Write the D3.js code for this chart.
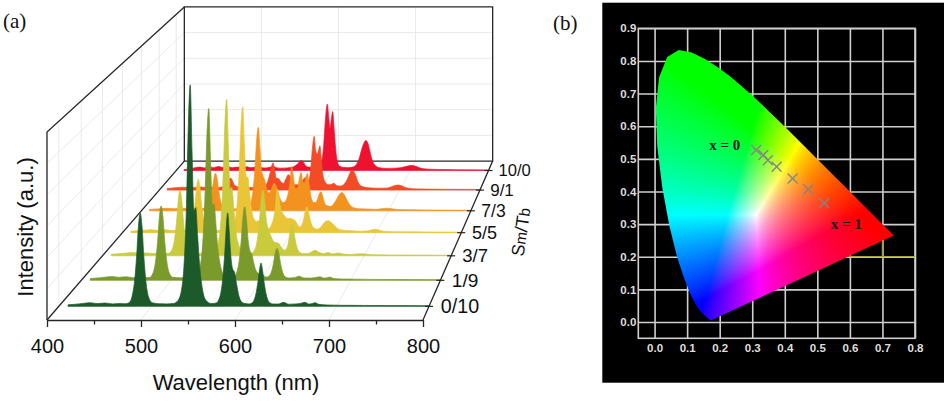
<!DOCTYPE html>
<html>
<head>
<meta charset="utf-8">
<script src="https://cdn.jsdelivr.net/npm/d3@7"></script>
<style>
  body { margin: 0; background: #fff; }
  svg { display: block; }
</style>
</head>
<body>
<svg id="fig" width="947" height="402"></svg>
<script>
// ---------------- data, panel (a) ----------------
var wlTicks = [400, 500, 600, 700, 800];
var wlMinor = [450, 550, 650, 750];
var ratios = ["0/10", "1/9", "3/7", "5/5", "7/3", "9/1", "10/0"];
var seriesColors = ["#1c5a2a", "#7a9a2c", "#c9ca3c", "#eac537", "#f3921f", "#f24b25", "#ef1230"];

// [wavelength nm, intensity a.u.]
var spec0_10 = [[410,1.0],[418,1.4],[426,1.9],[434,2.4],[442,1.8],[450,2.2],[458,1.6],[466,1.9],[472,1.7],[476,2.4],[479,6.1],[482,17],[484,31.5],[486,51.5],[488,60.6],[490,51.5],[492,31.5],[494,17],[497,6.1],[501,2.4],[508,1.7],[516,1.6],[524,1.9],[529,4],[533,12],[536,34],[538,66],[540,118],[542,143.6],[544,100],[546,62],[548,64],[550,46],[552,28],[555,12],[559,4],[565,1.8],[570,2.2],[574,6.1],[577,17],[579,31.5],[581,51.5],[582.5,60.6],[584,50],[586,32],[588,24],[590,22],[592,15],[595,6],[599,2.2],[606,1.6],[610,3],[613,8],[615,15],[617,24],[618.5,28.1],[620,24],[622,15],[624,8],[627,3],[631,1.6],[637,1.5],[643,2.6],[648,1.4],[656,1.6],[662,2],[666,2.6],[670,1.5],[674,1.9],[677,2.4],[681,1.3],[690,0.9],[705,0.7],[730,0.6],[760,0.5],[800,0.4]];
var spec1_9 = [[410,1.2],[418,1.6],[426,2.1],[434,2.6],[442,2.0],[450,2.4],[458,1.8],[466,2.1],[472,1.8],[476,1.9],[480,5],[483,13.9],[485,25.8],[487,42.2],[489,49.7],[491,42.2],[493,25.8],[495,13.9],[498,5],[502,2],[510,1.7],[518,1.6],[524,1.9],[529,4],[533,11.5],[536,32],[538,60],[540,97.6],[542,114.8],[544,80],[546,50],[548,51],[550,37],[552,22],[555,10],[559,3.5],[565,1.8],[570,1.8],[573,4.9],[576,13.7],[578,25.5],[580,41.7],[582,49.1],[584,40.5],[586,26],[588,19.5],[590,17.5],[592,12],[595,6],[599,4],[602,3.5],[606,2.2],[609,2.8],[612,6],[614,11.1],[616,18.2],[618,21.4],[620,18.2],[622,11.1],[624,6],[627,2.4],[631,1.6],[637,1.8],[643,2.8],[648,1.6],[656,1.5],[662,2],[666,2.4],[670,1.5],[674,1.8],[677,2.2],[681,1.2],[690,0.9],[705,0.8],[730,0.6],[760,0.5],[800,0.4]];
var spec3_7 = [[410,1.0],[418,1.4],[426,1.8],[434,2.2],[442,1.7],[450,2.0],[458,1.6],[466,1.9],[472,1.6],[476,1.8],[480,4.5],[483,12.7],[485,23.6],[487,38.5],[489,45.3],[491,38.5],[493,23.6],[495,12.7],[498,4.5],[502,1.8],[510,1.5],[518,1.5],[525,1.8],[529.5,3.8],[533.5,10.8],[536.5,30],[538.5,56],[540.5,91.5],[542.5,107.7],[544.5,75],[546.5,46],[548.5,47],[550.5,34],[552.5,20],[555.5,9],[559,5],[562,5.5],[566,3],[571,2],[575,4.5],[578,12.7],[580,23.6],[582,38.5],[584,45.3],[586,38.5],[588,25],[590,19],[593,14],[597,9.5],[600,9],[603,8],[606,5],[609,3.8],[612,6.2],[614,11.6],[615.5,18],[617,22.3],[619,19],[621,11.6],[623,6.2],[626,2.5],[630,1.6],[636,1.6],[640,2.8],[644,3.8],[648,2.6],[653,1.4],[659,2.2],[664,1.3],[671,1.9],[676,1.2],[685,0.9],[698,1.4],[710,0.7],[730,0.6],[760,0.5],[800,0.4]];
var spec5_5 = [[410,1.0],[418,1.4],[426,1.8],[434,2.1],[442,1.6],[450,2.0],[458,1.5],[466,1.8],[472,1.5],[476.5,1.6],[480.5,3.8],[483.5,10.6],[485.5,19.7],[487.5,32],[489.5,37.8],[491.5,32],[493.5,19.7],[495.5,10.6],[498.5,3.8],[502.5,1.7],[510,1.5],[518,1.5],[524,1.7],[529,3.1],[533,8.9],[536,25],[538,46.4],[540,75.8],[542,89.2],[544,62],[546,40],[548,39],[550,29],[552,18],[555,10],[558,8],[561,8.5],[564,6.5],[568,3.5],[572,2.5],[575.5,5],[578.5,10.5],[580.5,18],[582.5,31],[584.5,27],[586.5,18],[589,14],[592,11.5],[595,10],[598,10.2],[601,9.5],[604,8.5],[607,5.5],[610,4],[612.5,6.5],[614.5,11],[616,15.5],[617.5,18.4],[619.5,15.5],[621.5,9.5],[623.5,5.5],[627,3],[630,2.5],[635,4.5],[639,7.5],[643,8.5],[647,7],[651,4.5],[655,2.5],[660,1.8],[665,1.5],[672,1.3],[680,1],[688,1.2],[693,1.8],[698,2.4],[703,1.8],[710,0.9],[730,0.6],[760,0.5],[800,0.4]];
var spec7_3 = [[410,1.0],[420,1.4],[430,1.8],[440,1.5],[450,1.9],[460,1.5],[468,1.8],[474,1.6],[478,2.2],[481,2.8],[484,7.7],[486,14.2],[488,23.3],[490,27.4],[492,23.3],[494,14.2],[496,7.7],[499,2.8],[503,1.5],[512,1.4],[520,1.5],[526,1.8],[530,2.5],[533,6.1],[536,17],[538,31.6],[540,51.7],[542,60.8],[544,45],[546,29],[548,25],[550,22],[552,16],[555,13],[558,16],[561,20],[563,19],[566,13],[569,8],[572,6],[575,7],[578,12],[580.5,21],[582.5,32.1],[584.5,25],[587,16],[590,17],[592,24],[594,28],[596,21],[598,20],[600,25],[601.5,27.3],[603.5,20],[606,10],[609,6],[612,6],[614,9],[616,12.5],[618,13.9],[620,11],[622,6.5],[625,3.8],[630,3.2],[634,5.5],[638,9.5],[641,12.5],[643,13.4],[646,12],[649,8.5],[653,4.5],[658,2.2],[665,1.5],[675,1.3],[685,1.1],[692,1.5],[698,1.9],[704,1.5],[712,0.9],[730,0.7],[760,0.5],[800,0.4]];
var spec9_1 = [[410,1.2],[420,1.8],[430,2.2],[440,1.8],[450,2.4],[460,1.9],[468,2.2],[474,2],[479,2.6],[482,3.5],[485,6],[487,8],[489,9],[491,7.5],[493,4.5],[496,2.8],[502,2],[512,1.9],[520,2.2],[526,2.5],[531,3],[535,6],[538,12],[540,17.5],[542,20.4],[544,15],[546,9],[549,8.5],[552,6],[555,5],[558,8.5],[561,11.5],[563,10.5],[566,6],[570,4],[574,4],[578,6],[580.5,8.5],[582.5,9.6],[585,7],[587,8],[589,16],[591,31],[593.3,40.2],[595,30],[597,27],[598.5,29],[600.4,33.2],[602,24],[604,12],[607,6],[611,4],[614,4.2],[616,4.8],[618,5.1],[621,3.5],[626,3],[630,4],[634,7.5],[637,11.5],[640,15],[642,14.5],[645,11],[648,6],[652,3],[658,2],[665,1.6],[675,1.4],[685,1.6],[691,2.8],[695,3.6],[698,3.8],[702,3.3],[707,2],[715,1.1],[730,0.8],[760,0.6],[800,0.5]];
var spec10_0 = [[410,0.8],[418,1.2],[424,2.2],[430,2.6],[436,2],[442,2.8],[448,2.2],[454,3],[460,2.4],[466,2.8],[472,2.2],[478,2.6],[484,2.4],[490,2.8],[496,2.2],[502,2.6],[508,2.2],[514,2],[520,2.4],[524,3.2],[528,2.2],[535,1.8],[542,2],[548,2.4],[553,3.8],[557,6],[560,7.7],[562,7.2],[565,4.5],[569,2.6],[575,2.4],[580,3],[584,4.5],[587,9],[589,20],[591,38],[593.5,51],[595.5,40],[597,32.5],[598.8,40],[600.4,45.3],[602,34],[604,18],[606,8],[609,3.5],[614,2.4],[620,2.2],[626,2.6],[630,4],[634,8.5],[637,15],[640,20.5],[643,23],[645.5,21],[648,15],[651,8],[655,3.8],[660,2.2],[670,1.6],[680,1.8],[688,2.2],[694,3],[698,3.6],[702,3.8],[706,3.4],[710,2.4],[716,1.4],[725,1],[745,0.7],[770,0.5],[800,0.4]];
var spectra = [spec0_10, spec1_9, spec3_7, spec5_5, spec7_3, spec9_1, spec10_0];
var intGrid = [20, 40, 60, 80, 100];
var wlGrid = [500, 600, 700];

// ---------------- data, panel (b) ----------------
var cieTicksX = [0, 0.1, 0.2, 0.3, 0.4, 0.5, 0.6, 0.7, 0.8];
var cieTicksY = [0, 0.1, 0.2, 0.3, 0.4, 0.5, 0.6, 0.7, 0.8, 0.9];
// CIE 1931 spectral locus, 380 nm -> 700 nm
var locusX = [0.1741,0.1733,0.1714,0.1644,0.1566,0.1440,0.1355,0.1241,0.1096,0.0913,0.0687,0.0454,0.0235,0.0082,0.0039,0.0139,0.0389,0.0743,0.1142,0.1547,0.1929,0.2296,0.2658,0.3016,0.3373,0.3731,0.4087,0.4441,0.4788,0.5125,0.5448,0.5752,0.6029,0.6270,0.6658,0.6915,0.7190,0.7300,0.7347];
var locusY = [0.0050,0.0048,0.0051,0.0109,0.0177,0.0297,0.0399,0.0578,0.0868,0.1327,0.2007,0.2950,0.4127,0.5384,0.6548,0.7502,0.8120,0.8338,0.8262,0.8059,0.7816,0.7543,0.7243,0.6923,0.6589,0.6245,0.5896,0.5547,0.5202,0.4866,0.4544,0.4242,0.3965,0.3725,0.3340,0.3083,0.2809,0.2700,0.2653];
// colour coordinates of the samples, x = 0 ... x = 1
var sampleX = [0.312, 0.334, 0.348, 0.375, 0.424, 0.472, 0.521];
var sampleY = [0.527, 0.512, 0.496, 0.476, 0.440, 0.407, 0.364];
var noteText = ["x = 0", "x = 1"];
var noteX = [0.168, 0.541];
var noteY = [0.527, 0.284];

var svg = d3.select("#fig");
var sans = "'Liberation Sans', Arial, sans-serif";
var serif = "'Liberation Serif', 'Times New Roman', serif";

// =====================================================
// panel (a): 3D waterfall drawn with a one point perspective
// =====================================================
var vanish = [810, -563];
var depthK = 0.2195;
var xWl = d3.scaleLinear().domain([400, 800]).range([47, 423]);
var yInt = d3.scaleLinear().domain([0, 120]).range([320, 132]);
var zDepth = d3.scalePoint().domain(ratios).range([0, 1]).padding(0.5);

function shrink(d) { return 1 / (1 + depthK * d); }
function proj(w, i, d) {
    var s = shrink(d);
    return [vanish[0] + (xWl(w) - vanish[0]) * s, vanish[1] + (yInt(i) - vanish[1]) * s];
}
function seg(a, b) { return "M" + a + "L" + b; }

// light grid on walls and floor
var grid = svg.append("g").attr("fill", "none").attr("stroke", "#e4e4e4").attr("stroke-width", 0.8);
intGrid.forEach(function(i) {
    grid.append("path").attr("d", seg(proj(400, i, 1), proj(800, i, 1)));
    grid.append("path").attr("d", seg(proj(400, i, 0), proj(400, i, 1)));
});
wlGrid.forEach(function(w) {
    grid.append("path").attr("d", seg(proj(w, 0, 1), proj(w, 120, 1)));
    grid.append("path").attr("d", seg(proj(w, 0, 0), proj(w, 0, 1)));
});
ratios.forEach(function(r) {
    grid.append("path").attr("d", seg(proj(400, 0, zDepth(r)), proj(400, 120, zDepth(r))));
});

// box edges behind the spectra
var box = svg.append("g").attr("fill", "none").attr("stroke", "#262626").attr("stroke-width", 1.3);
box.append("path").attr("d", "M" + [proj(400, 0, 1), proj(400, 120, 1), proj(800, 120, 1), proj(800, 0, 1)].join("L") + "Z");
box.append("path").attr("d", "M" + [proj(400, 0, 0), proj(400, 120, 0), proj(400, 120, 1)].join("L"));
box.append("path").attr("d", seg(proj(400, 0, 0), proj(400, 0, 1)));

// spectra, back to front
d3.range(ratios.length).reverse().forEach(function(k) {
    var d = zDepth(ratios[k]);
    var area = d3.area()
        .x(function(p) { return proj(p[0], 0, d)[0]; })
        .y0(proj(400, 0, d)[1])
        .y1(function(p) { return proj(p[0], p[1], d)[1]; })
        .curve(d3.curveMonotoneX);
    svg.append("path")
        .datum(spectra[k])
        .attr("d", area)
        .attr("fill", seriesColors[k])
        .attr("stroke", seriesColors[k])
        .attr("stroke-width", 0.7);
});

// wavelength axis (front edge)
var axMajor = d3.axisBottom(xWl).tickValues(wlTicks).tickSize(7).tickSizeOuter(0).tickPadding(11.5);
var axMinor = d3.axisBottom(xWl).tickValues(wlMinor).tickSize(4.5).tickSizeOuter(0).tickFormat("");
var gx = svg.append("g").attr("transform", "translate(0," + yInt(0) + ")").call(axMajor);
svg.append("g").attr("transform", "translate(0," + yInt(0) + ")").call(axMinor).select(".domain").remove();
gx.selectAll("path,line").attr("stroke", "#262626").attr("stroke-width", 1.3);
gx.selectAll("text").attr("font-family", sans).attr("font-size", 20).attr("fill", "#111");
svg.selectAll(".tick line").attr("stroke", "#262626").attr("stroke-width", 1.3);

// depth axis (right floor edge)
var depthAx = svg.append("g");
depthAx.append("path").attr("d", seg(proj(800, 0, 0), proj(800, 0, 1)))
    .attr("stroke", "#262626").attr("stroke-width", 1.3).attr("fill", "none");
ratios.forEach(function(r) {
    var d = zDepth(r), p = proj(800, 0, d), s = shrink(d);
    depthAx.append("line")
        .attr("x1", p[0] - 4).attr("x2", p[0] + 4).attr("y1", p[1]).attr("y2", p[1])
        .attr("stroke", "#262626").attr("stroke-width", 1.2);
    depthAx.append("text")
        .attr("x", p[0] + 12 * s).attr("y", p[1])
        .attr("dominant-baseline", "central")
        .attr("font-family", sans).attr("font-size", 20 * s).attr("fill", "#111")
        .text(r);
});
var smtb = depthAx.append("text")
    .attr("transform", "translate(521,232) rotate(-82)")
    .attr("text-anchor", "middle").attr("dominant-baseline", "central")
    .attr("font-family", sans).attr("font-size", 18).attr("fill", "#111");
smtb.append("tspan").text("S");
smtb.append("tspan").attr("font-size", 15).text("m");
smtb.append("tspan").text("/T");
smtb.append("tspan").attr("font-size", 15).text("b");

// axis titles
svg.append("text")
    .attr("transform", "translate(33,227) rotate(-90)")
    .attr("text-anchor", "middle")
    .attr("font-family", sans).attr("font-size", 22).attr("fill", "#111")
    .text("Intensity (a.u.)");
svg.append("text")
    .attr("x", 236).attr("y", 390)
    .attr("text-anchor", "middle")
    .attr("font-family", sans).attr("font-size", 22).attr("fill", "#111")
    .text("Wavelength (nm)");
svg.append("text").attr("x", 3).attr("y", 28)
    .attr("font-family", serif).attr("font-size", 21).attr("fill", "#111").text("(a)");

// =====================================================
// panel (b): CIE 1931 chromaticity diagram
// =====================================================
svg.append("text").attr("x", 553).attr("y", 29.5)
    .attr("font-family", serif).attr("font-size", 21).attr("fill", "#111").text("(b)");

svg.append("rect").attr("x", 602.3).attr("y", 2.7).attr("width", 341.7).attr("height", 380)
    .attr("fill", "#000");

var cx = d3.scaleLinear().domain([-0.05, 0.8]).range([638.3, 915]);
var cy = d3.scaleLinear().domain([-0.05, 0.9]).range([338.3, 28.3]);
var plotH = cy(-0.05) - cy(0.9), plotW = cx(0.8) - cx(-0.05);

var gbx = svg.append("g").attr("transform", "translate(0," + cy(-0.05) + ")")
    .call(d3.axisBottom(cx).tickValues(cieTicksX).tickSize(-plotH).tickSizeOuter(0)
        .tickPadding(6).tickFormat(d3.format(".1f")));
var gby = svg.append("g").attr("transform", "translate(" + cx(-0.05) + ",0)")
    .call(d3.axisLeft(cy).tickValues(cieTicksY).tickSize(-plotW).tickSizeOuter(0)
        .tickPadding(2).tickFormat(d3.format(".1f")));
[gbx, gby].forEach(function(g) {
    g.select(".domain").remove();
    g.selectAll(".tick line").attr("stroke", "#cfcfcf").attr("stroke-width", 1.6);
    g.selectAll("text").attr("font-family", sans).attr("font-weight", "bold")
        .attr("font-size", 11.5).attr("fill", "#dedede");
});
svg.append("rect").attr("x", cx(-0.05)).attr("y", cy(0.9)).attr("width", plotW).attr("height", plotH)
    .attr("fill", "none").attr("stroke", "#cfcfcf").attr("stroke-width", 1.6);

// colour field of the gamut, painted pixel by pixel then clipped by the locus
var locus = locusX.map(function(x, i) { return [x, locusY[i]]; });
var locusLine = d3.line().x(function(p) { return cx(p[0]); }).y(function(p) { return cy(p[1]); });
svg.append("clipPath").attr("id", "locusClip")
    .append("path").attr("d", locusLine(locus) + "Z");

var gx0 = Math.floor(cx(0)), gx1 = Math.ceil(cx(0.75));
var gy0 = Math.floor(cy(0.86)), gy1 = Math.ceil(cy(0));
var cw = gx1 - gx0, ch = gy1 - gy0;
var cnv = document.createElement("canvas");
cnv.width = cw; cnv.height = ch;
var ctx = cnv.getContext("2d");
var img = ctx.createImageData(cw, ch);
function gam(v) { return v <= 0.0031308 ? 12.92 * v : 1.055 * Math.pow(v, 1 / 2.4) - 0.055; }
for (var j = 0; j < ch; j++) {
    for (var i = 0; i < cw; i++) {
        var x = cx.invert(gx0 + i + 0.5), y = Math.max(cy.invert(gy0 + j + 0.5), 0.003);
        var X = x / y, Z = (1 - x - y) / y;
        var r = 3.2406 * X - 1.5372 - 0.4986 * Z;
        var g = -0.9689 * X + 1.8758 + 0.0415 * Z;
        var b = 0.0557 * X - 0.2040 + 1.0570 * Z;
        r = Math.max(r, 0); g = Math.max(g, 0); b = Math.max(b, 0);
        var m = Math.max(r, g, b) || 1;
        var o = 4 * (j * cw + i);
        // pushed saturation, the printed diagram is more vivid than plain sRGB
        img.data[o] = 255 * gam(Math.pow(r / m, 1.7));
        img.data[o + 1] = 255 * gam(Math.pow(g / m, 1.7));
        img.data[o + 2] = 255 * gam(Math.pow(b / m, 1.7));
        img.data[o + 3] = 255;
    }
}
ctx.putImageData(img, 0, 0);
svg.append("image")
    .attr("x", gx0).attr("y", gy0).attr("width", cw).attr("height", ch)
    .attr("preserveAspectRatio", "none")
    .attr("href", cnv.toDataURL())
    .attr("clip-path", "url(#locusClip)");

// yellowish grid pieces seen at the lower right of the gamut
svg.append("path")
    .attr("d", "M" + [cx(0.6), cy(0.2)] + "L" + [cx(0.8), cy(0.2)] + "M" + [cx(0.7), cy(0.2)] + "L" + [cx(0.7), cy(0.25)])
    .attr("stroke", "#a9a232").attr("stroke-width", 1.3).attr("fill", "none");

// sample points
svg.append("g").selectAll("path")
    .data(sampleX)
    .enter().append("path")
    .attr("transform", function(d, i) { return "translate(" + cx(d) + "," + cy(sampleY[i]) + ")"; })
    .attr("d", "M-5,-5L5,5M-5,5L5,-5")
    .attr("stroke", "#858585").attr("stroke-width", 1.4).attr("fill", "none");

svg.append("g").selectAll("text")
    .data(noteText)
    .enter().append("text")
    .attr("x", function(d, i) { return cx(noteX[i]); })
    .attr("y", function(d, i) { return cy(noteY[i]); })
    .attr("font-family", serif).attr("font-weight", "bold").attr("font-size", 15)
    .attr("fill", "#1d1d24")
    .text(function(d) { return d; });
</script>
</body>
</html>
